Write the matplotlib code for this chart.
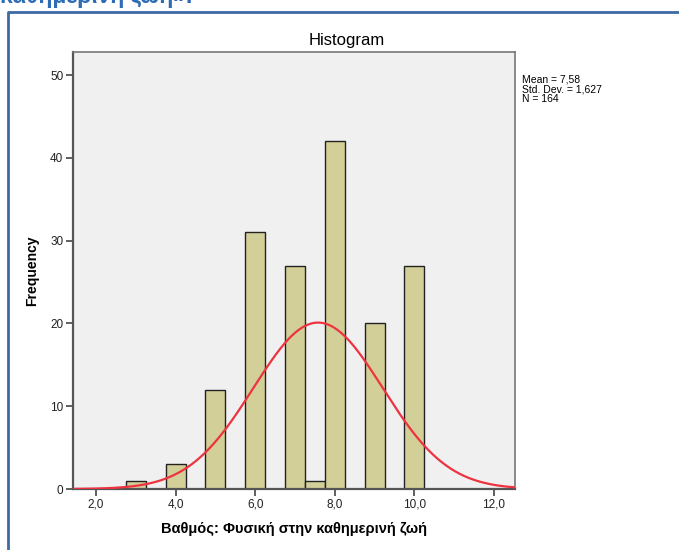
import matplotlib
matplotlib.use("Agg")
import matplotlib.pyplot as plt
import numpy as np
from matplotlib.lines import Line2D

plt.rcParams["font.family"] = ["Liberation Sans", "DejaVu Sans"]

# histogram data
bin_centers = [3.0, 4.0, 5.0, 6.0, 7.0, 7.5, 8.0, 9.0, 10.0]
counts = [1, 3, 12, 31, 27, 1, 42, 20, 27]
bin_width = 0.5
mean = 7.58
std = 1.627
n = 164

x_ticks = [2, 4, 6, 8, 10, 12]
x_ticklabels = ["2,0", "4,0", "6,0", "8,0", "10,0", "12,0"]
y_ticks = [0, 10, 20, 30, 40, 50]

fig = plt.figure(figsize=(6.79, 5.5), dpi=100)
ax = fig.add_axes([73 / 679, 1 - 489 / 550, 442 / 679, 437 / 550])
ax.set_facecolor("#f0f0f0")

ax.bar(bin_centers, counts, width=bin_width, color="#d3cf98",
       edgecolor="#222222", linewidth=1.0, zorder=2)

xs = np.linspace(1.42, 12.53, 400)
ys = n * bin_width * np.exp(-0.5 * ((xs - mean) / std) ** 2) / (std * np.sqrt(2 * np.pi))
ax.plot(xs, ys, color="#ee3340", lw=1.6, zorder=3)

ax.set_xlim(1.42, 12.53)
ax.set_ylim(0, 52.8)
ax.set_xticks(x_ticks)
ax.set_xticklabels(x_ticklabels)
ax.set_yticks(y_ticks)
ax.tick_params(axis="both", direction="out", length=5, width=1.2,
               color="#444444", labelsize=8.5, labelcolor="#222222", pad=2)

for side in ["left", "bottom"]:
    ax.spines[side].set_color("#555555")
    ax.spines[side].set_linewidth(1.6)
for side in ["top", "right"]:
    ax.spines[side].set_color("#777777")
    ax.spines[side].set_linewidth(1.2)

ax.set_ylabel("Frequency", fontsize=10, fontweight="bold", labelpad=8)
ax.set_xlabel("Βαθμός: Φυσική στην καθημερινή ζωή", fontsize=10.5,
              fontweight="bold", labelpad=8)

fig.text(347 / 679, 1 - 40 / 550, "Histogram", fontsize=12, ha="center", va="center")

stats = [f"Mean = {mean:.2f}", f"Std. Dev. = {std:.3f}", f"N = {n}"]
stats = [s.replace("7.58", "7,58").replace("1.627", "1,627") for s in stats]
fig.text(522 / 679, 1 - 75 / 550, "\n".join(stats),
         fontsize=7.5, va="top", ha="left", linespacing=0.92)

# heading cut off at the top of the screenshot
fig.text(0.0, 1 - 3 / 550, "καθημερινή ζωή».", fontsize=16.5, fontweight="bold",
         color="#2e6db4", ha="left", va="baseline")

# blue frame of the report box
fig.add_artist(Line2D([8 / 679, 8 / 679, 1.0], [0.0, 1 - 12 / 550, 1 - 12 / 550],
                      color="#3d6aa5", lw=2, transform=fig.transFigure))

fig.savefig("out.png", dpi=100)
